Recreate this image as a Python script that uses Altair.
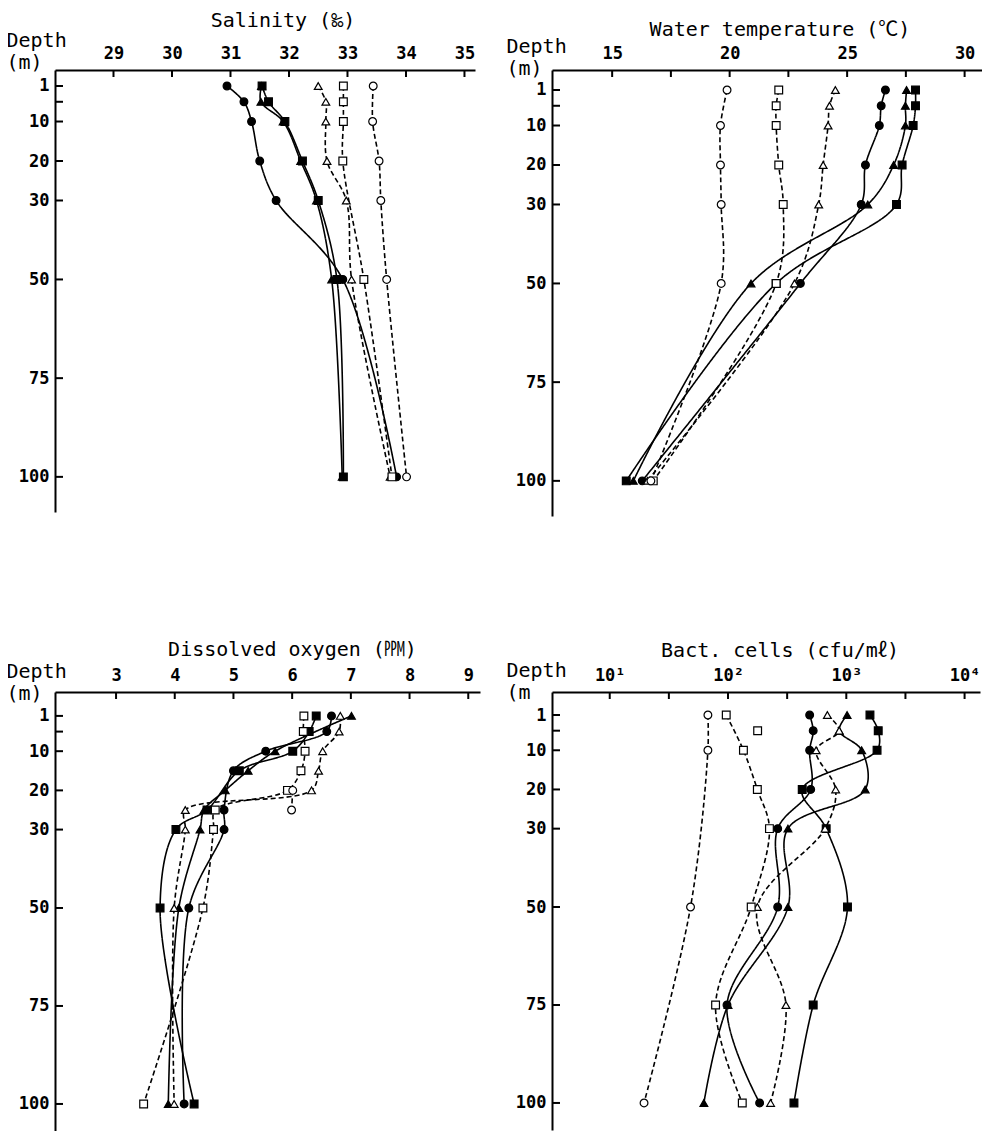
import altair as alt
import pandas as pd

# ---------------- data ----------------
# series keys: fc = filled circle, fs = filled square, ft = filled triangle,
#              oc = open circle,  os = open square,  ot = open triangle
# Salinity (permil)
sal_depth = [1, 5, 10, 20, 30, 50, 100]
sal_fc = [30.94, 31.23, 31.36, 31.50, 31.78, 32.92, 33.84]
sal_fs = [31.54, 31.65, 31.93, 32.23, 32.50, 32.82, 32.93]
sal_ft = [31.53, 31.52, 31.90, 32.20, 32.47, 32.73, 32.91]
sal_ot = [32.50, 32.63, 32.63, 32.65, 32.98, 33.07, 33.73]
sal_os_depth = [1, 5, 10, 20, 50, 100]
sal_os = [32.93, 32.93, 32.93, 32.92, 33.28, 33.76]
sal_oc_depth = [1, 10, 20, 30, 50, 100]
sal_oc = [33.44, 33.43, 33.54, 33.57, 33.67, 34.01]

# Water temperature (deg C)
tmp_depth = [1, 5, 10, 20, 30, 50, 100]
tmp_fc = [26.63, 26.45, 26.37, 25.78, 25.60, 23.01, 16.28]
tmp_fs = [27.91, 27.91, 27.81, 27.34, 27.10, 21.98, 15.60]
tmp_ft = [27.53, 27.48, 27.48, 26.98, 25.88, 20.91, 15.90]
tmp_ot = [24.50, 24.25, 24.19, 23.98, 23.79, 22.76, 16.50]
tmp_os = [22.09, 21.98, 21.98, 22.09, 22.28, 21.98, 16.75]
tmp_oc_depth = [1, 10, 20, 30, 50, 100]
tmp_oc = [19.89, 19.61, 19.61, 19.64, 19.64, 16.65]

# Dissolved oxygen (ppm)
do_fc_depth = [1, 5, 10, 15, 25, 30, 50, 100]
do_fc = [6.67, 6.59, 5.55, 5.00, 4.84, 4.84, 4.24, 4.16]
do_fs_depth = [1, 5, 10, 15, 25, 30, 50, 100]
do_fs = [6.41, 6.29, 6.01, 5.10, 4.55, 4.02, 3.75, 4.33]
do_ft_depth = [1, 10, 15, 20, 25, 30, 50, 100]
do_ft = [7.01, 5.71, 5.25, 4.86, 4.50, 4.43, 4.07, 3.89]
do_ot_depth = [1, 5, 10, 15, 20, 25, 30, 50, 100]
do_ot = [6.82, 6.80, 6.52, 6.45, 6.33, 4.18, 4.18, 3.99, 3.99]
do_os_depth = [1, 5, 10, 15, 20, 25, 30, 50, 100]
do_os = [6.20, 6.19, 6.22, 6.15, 5.92, 4.69, 4.66, 4.48, 3.47]
do_oc_depth = [20, 25]
do_oc = [6.01, 5.99]

# Bacterial cells (cfu/ml)
bac_depth = [1, 5, 10, 20, 30, 50, 75, 100]
bac_fc = [490, 525, 490, 500, 263, 263, 98, 185]
bac_fs = [1585, 1862, 1820, 424, 676, 1023, 525, 361]
bac_ft = [1016, 871, 1349, 1445, 321, 321, 100, 62.5]
bac_ot = [692, 871, 556, 813, 661, 177, 309, 229]
bac_os_depth = [1, 10, 20, 30, 50, 75, 100]
bac_os = [96.6, 135, 177, 224, 157, 78.5, 132]
bac_os_single_depth = [5]
bac_os_single = [178]
bac_oc_depth = [1, 10, 50, 100]
bac_oc = [67.6, 67.6, 48.2, 19.5]

depth_ticks = [1, 5, 10, 20, 30, 50, 75, 100]
depth_labels = [1, 10, 20, 30, 50, 75, 100]

sal_ticks = [29, 30, 31, 32, 33, 34, 35]
tmp_ticks = [15, 17.5, 20, 22.5, 25, 27.5, 30]
tmp_labels = [15, 20, 25, 30]
do_ticks = [3, 4, 5, 6, 7, 8, 9]
bac_ticks = [10, 31.62, 100, 316.2, 1000, 3162, 10000]
bac_labels = [10, 100, 1000, 10000]

# ---------------- helpers ----------------
SERIES = ["fc", "fs", "ft", "oc", "os", "ot", "os1"]
SHAPES = ["circle", "square", "triangle-up", "circle", "square", "triangle-up", "square"]
FILLS = ["black", "black", "black", "white", "white", "white", "white"]


def frame(pairs):
    rows = []
    for key, depths, vals, connect in pairs:
        for d, v in zip(depths, vals):
            rows.append({"series": key, "depth": d, "value": v,
                         "kind": "solid" if key.startswith("f") else "dashed",
                         "line": connect})
    return pd.DataFrame(rows)


sal_df = frame([("fc", sal_depth, sal_fc, True), ("fs", sal_depth, sal_fs, True),
                ("ft", sal_depth, sal_ft, True), ("ot", sal_depth, sal_ot, True),
                ("os", sal_os_depth, sal_os, True), ("oc", sal_oc_depth, sal_oc, True)])
tmp_df = frame([("fc", tmp_depth, tmp_fc, True), ("fs", tmp_depth, tmp_fs, True),
                ("ft", tmp_depth, tmp_ft, True), ("ot", tmp_depth, tmp_ot, True),
                ("os", tmp_depth, tmp_os, True), ("oc", tmp_oc_depth, tmp_oc, True)])
do_df = frame([("fc", do_fc_depth, do_fc, True), ("fs", do_fs_depth, do_fs, True),
               ("ft", do_ft_depth, do_ft, True), ("ot", do_ot_depth, do_ot, True),
               ("os", do_os_depth, do_os, True), ("oc", do_oc_depth, do_oc, True)])
bac_df = frame([("fc", bac_depth, bac_fc, True), ("fs", bac_depth, bac_fs, True),
                ("ft", bac_depth, bac_ft, True), ("ot", bac_depth, bac_ot, True),
                ("os", bac_os_depth, bac_os, True), ("oc", bac_oc_depth, bac_oc, True),
                ("os1", bac_os_single_depth, bac_os_single, False)])

FONT = "DejaVu Sans Mono, Noto Sans CJK JP"


def panel(df, title, xdom, width, height, ydom, xticks, xlabels, ytitle,
          title_x, title_y, tdx, toffset, xtype="linear", label_expr=None):
    xscale = alt.Scale(domain=xdom, type=xtype, nice=False, zero=False)
    yscale = alt.Scale(domain=ydom, reverse=True, nice=False, zero=False)
    xaxis_kw = dict(orient="top", values=xlabels, tickSize=0, domainWidth=2,
                    domainColor="black", labelFont=FONT, labelFontSize=17,
                    labelFontWeight="bold", labelColor="black", labelPadding=8,
                    labelFlush=False, labelOverlap=False, grid=False, title=None)
    if label_expr:
        xaxis_kw["labelExpr"] = label_expr
    xaxis = alt.Axis(**xaxis_kw)
    yaxis = alt.Axis(orient="left", values=depth_labels, tickSize=0, domainWidth=2,
                     domainColor="black", labelFont=FONT, labelFontSize=17,
                     labelFontWeight="bold", labelColor="black", labelPadding=6,
                     labelFlush=False, labelOverlap=False, grid=False,
                     title=ytitle, titleAngle=0, titleAlign="left",
                     titleBaseline="top", titleX=title_x, titleY=title_y,
                     titleFont=FONT, titleFontSize=20, titleFontWeight="normal",
                     titleColor="black", titleLineHeight=22)
    base = alt.Chart(df)
    lines = base.transform_filter("datum.line").mark_line(
        interpolate="catmull-rom", color="black", strokeWidth=1.6
    ).encode(
        x=alt.X("value:Q", scale=xscale, axis=xaxis),
        y=alt.Y("depth:Q", scale=yscale, axis=yaxis),
        detail="series:N",
        order="depth:Q",
        strokeDash=alt.StrokeDash("kind:N", scale=alt.Scale(domain=["solid", "dashed"],
                                  range=[[1, 0], [5, 3]]), legend=None),
    )
    points = base.mark_point(filled=True, size=60, stroke="black", strokeWidth=1.2,
                             opacity=1).encode(
        x=alt.X("value:Q", scale=xscale, axis=xaxis),
        y=alt.Y("depth:Q", scale=yscale, axis=yaxis),
        shape=alt.Shape("series:N", scale=alt.Scale(domain=SERIES, range=SHAPES), legend=None),
        fill=alt.Fill("series:N", scale=alt.Scale(domain=SERIES, range=FILLS), legend=None),
    )
    xt = alt.Chart(pd.DataFrame({"value": xticks})).mark_rule(color="black", strokeWidth=2).encode(
        x=alt.X("value:Q", scale=xscale, axis=xaxis), y=alt.value(0), y2=alt.value(7))
    yt = alt.Chart(pd.DataFrame({"depth": depth_ticks})).mark_rule(color="black", strokeWidth=2).encode(
        y=alt.Y("depth:Q", scale=yscale, axis=yaxis), x=alt.value(0), x2=alt.value(8))
    return alt.layer(lines, points, xt, yt).properties(
        width=width, height=height,
        title=alt.TitleParams(text=title, font=FONT, fontSize=20, fontWeight="normal",
                              color="black", anchor="middle", frame="group",
                              dx=tdx, offset=toffset),
    )


p1 = panel(sal_df, "Salinity (‰)", [28.0, 35.18], 420, 442, [-3.05, 108.9],
           sal_ticks, sal_ticks, ["Depth", "(m)"], -49, -40, 18, -1)
p2 = panel(tmp_df, "Water temperature (℃)", [12.44, 30.74], 430, 446, [-4.06, 108.9],
           tmp_ticks, tmp_labels, ["Depth", "(m)"], -46, -34, 13, -4)
p3 = panel(do_df, "Dissolved oxygen (㏙)", [1.96, 9.2], 425, 439, [-5.1, 106.9],
           do_ticks, do_ticks, ["Depth", "(m)"], -49, -31, 25, 1)
p4 = panel(bac_df, "Bact. cells (cfu/mℓ)", [3.25, 13500], 428, 438, [-4.87, 106.9],
           bac_ticks, bac_labels, ["Depth", "(m"], -46, -32, 14, -1, xtype="log",
           label_expr="datum.value < 50 ? '10¹' : datum.value < 500 ? '10²' : datum.value < 5000 ? '10³' : '10⁴'")

chart = alt.concat(p1, p2, p3, p4, columns=2, spacing={"row": 124, "column": 26}).resolve_scale(
    x="independent", y="independent"
).properties(padding={"left": -2, "top": 3, "right": 0, "bottom": 0}).configure_view(stroke=None)

chart.save("out.html", embed_options={"renderer": "svg", "actions": False})
